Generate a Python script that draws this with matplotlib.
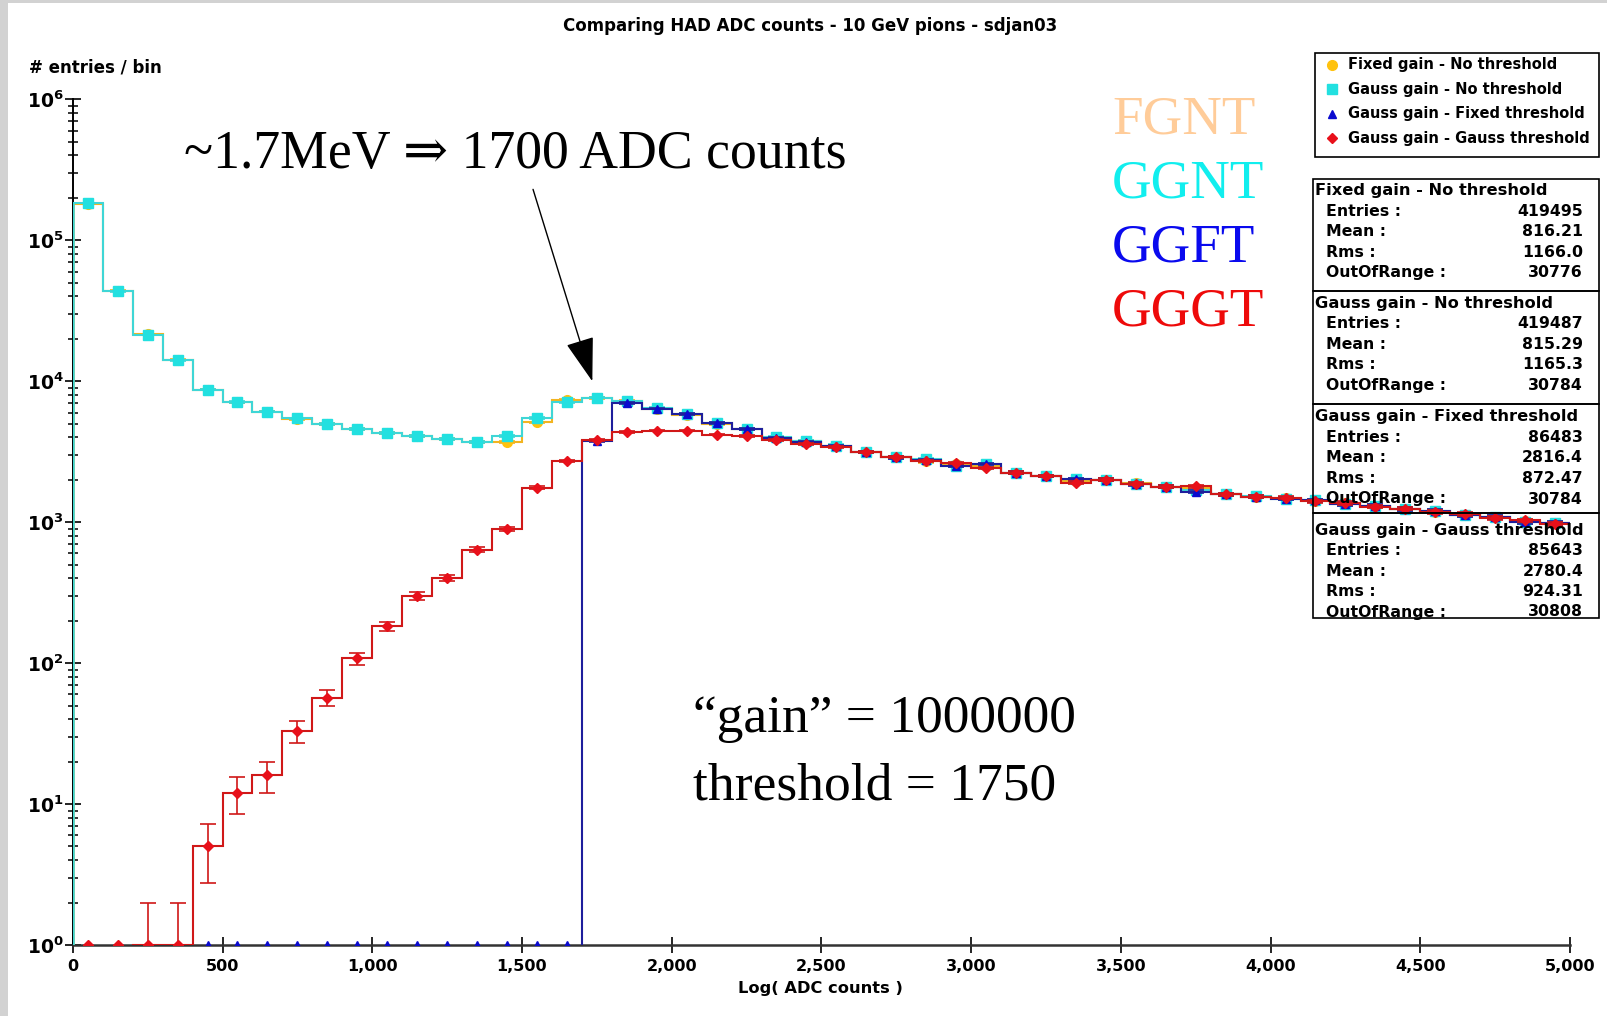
"""HAD ADC counts comparison for 10 GeV pions (sdjan03)."""

import numpy as np
import matplotlib
matplotlib.use("Agg")
import matplotlib.pyplot as plt
from matplotlib.lines import Line2D
from matplotlib.patches import Rectangle
from matplotlib.ticker import FuncFormatter, FixedLocator, NullFormatter, MultipleLocator

plt.rcParams["font.family"] = ["DejaVu Sans"]
plt.rcParams["font.weight"] = "bold"
plt.rcParams["mathtext.default"] = "bf"

W, H = 1607, 1016

# histogram binning: 50 bins of 100 ADC counts
bin_edges = np.arange(0, 5001, 100)

# Fixed gain - No threshold
fgnt = [182000, 44000, 21500, 14200, 8700, 7100, 6100, 5400, 5000, 4600,
        4300, 4100, 3900, 3700, 3700, 5100, 7400, 7600, 7300, 6400,
        5800, 5000, 4600, 3950, 3750, 3450, 3150, 2900, 2700, 2600,
        2500, 2250, 2130, 1950, 2000, 1900, 1790, 1750, 1580, 1520,
        1480, 1420, 1360, 1300, 1250, 1190, 1130, 1080, 1020, 980]
# Gauss gain - No threshold
ggnt = [183000, 43500, 21300, 14100, 8700, 7150, 6100, 5450, 5000, 4600,
        4300, 4100, 3900, 3700, 4100, 5500, 7100, 7650, 7200, 6450,
        5900, 5050, 4600, 4000, 3750, 3500, 3150, 2880, 2820, 2520,
        2600, 2250, 2130, 2020, 2000, 1870, 1790, 1680, 1580, 1530,
        1470, 1430, 1350, 1310, 1240, 1200, 1120, 1090, 1010, 985]
# Gauss gain - Fixed threshold
ggft = [0, 0, 0, 0, 0, 0, 0, 0, 0, 0,
        0, 0, 0, 0, 0, 0, 0, 3750, 7000, 6400,
        5870, 5040, 4570, 3940, 3730, 3480, 3140, 2880, 2750, 2500,
        2600, 2250, 2130, 2020, 2000, 1860, 1790, 1650, 1580, 1520,
        1470, 1430, 1350, 1310, 1240, 1200, 1120, 1090, 1010, 985]
# Gauss gain - Gauss threshold
gggt = [0, 0, 1, 1, 5, 12, 16, 33, 57, 108,
        183, 300, 403, 637, 892, 1760, 2720, 3840, 4350, 4470,
        4470, 4190, 4100, 3840, 3570, 3400, 3140, 2900, 2720, 2640,
        2420, 2250, 2130, 1910, 2000, 1870, 1790, 1800, 1580, 1520,
        1490, 1410, 1370, 1290, 1250, 1180, 1140, 1070, 1030, 975]

series_names = ["Fixed gain - No threshold", "Gauss gain - No threshold",
                "Gauss gain - Fixed threshold", "Gauss gain - Gauss threshold"]
short_names = ["FGNT", "GGNT", "GGFT", "GGGT"]
stat_entries = ["419495", "419487", "86483", "85643"]
stat_mean = ["816.21", "815.29", "2816.4", "2780.4"]
stat_rms = ["1166.0", "1165.3", "872.47", "924.31"]
stat_oor = ["30776", "30784", "30784", "30808"]

line_colors = ["#F2B420", "#3FD6D6", "#1E1E9C", "#D01818"]
marker_colors = ["#FFC20E", "#22E0E0", "#0A0ACF", "#E8101A"]
markers = ["o", "s", "^", "D"]
marker_sizes = [7, 6.5, 6, 5]
short_colors = ["#FFCC99", "#11EEEE", "#0A0AEE", "#EE0A0A"]

Y_MIN, Y_MAX = 1, 1e6


def fx(x):
    return x / W


def fy(y):
    return 1 - y / H


fig = plt.figure(figsize=(W / 100, H / 100), dpi=100)
fig.patch.set_facecolor("#d2d2d2")
fig.add_artist(Rectangle((fx(8), 0), 1 - fx(8), fy(3), transform=fig.transFigure,
                         facecolor="white", edgecolor="none", zorder=0))

ax = fig.add_axes([fx(72.8), fy(945), fx(1570) - fx(72.8), fy(99.4) - fy(945)])
ax.set_facecolor("white")
ax.set_yscale("log")
ax.set_xlim(0, 5000)
ax.set_ylim(Y_MIN, Y_MAX)

centers = 0.5 * (bin_edges[:-1] + bin_edges[1:])
for i, vals in enumerate([fgnt, ggnt, ggft, gggt]):
    v = np.asarray(vals, dtype=float)
    z = 3 + i * 0.1
    ax.stairs(v, bin_edges, baseline=None, color=line_colors[i], lw=1.5, zorder=z)
    if v[0] > 0:
        ax.vlines(bin_edges[0], Y_MIN, v[0], color=line_colors[i], lw=1.8, zorder=z)
    ax.errorbar(centers, v, yerr=np.sqrt(v), fmt="none", ecolor=line_colors[i],
                elinewidth=1.2, capsize=6, capthick=1.2, zorder=z)
    # empty bins are drawn on the axis, as the original plotter does
    shown = np.where(v > 0, v, Y_MIN)
    ax.plot(centers, shown, ls="none", marker=markers[i], ms=marker_sizes[i],
            color=marker_colors[i], mec=marker_colors[i], zorder=z + 0.05)

for side in ("top", "right"):
    ax.spines[side].set_visible(False)
ax.spines["left"].set_linewidth(1.4)
ax.spines["bottom"].set_linewidth(1.8)
ax.spines["bottom"].set_color("#333333")

decades = np.arange(0, 7)
ax.xaxis.set_major_locator(MultipleLocator(500))
ax.xaxis.set_major_formatter(FuncFormatter(lambda v, p: f"{int(v):,}"))
ax.yaxis.set_major_locator(FixedLocator(10.0 ** decades))
ax.yaxis.set_minor_locator(FixedLocator([k * 10.0 ** d for d in decades[:-1] for k in range(2, 10)]))
ax.yaxis.set_minor_formatter(NullFormatter())
ax.yaxis.set_major_formatter(FuncFormatter(lambda v, p: f"$10^{{{int(round(np.log10(v)))}}}$"))
ax.tick_params(axis="x", which="major", direction="inout", length=12, width=1.2,
               labelsize=11.5, pad=4)
ax.tick_params(axis="y", which="major", direction="inout", length=11, width=1.2,
               labelsize=13.5, pad=1)
ax.tick_params(axis="y", which="minor", direction="inout", length=7, width=1.1)

fig.text(fx(810), fy(25.6), "Comparing HAD ADC counts - 10 GeV pions - sdjan03",
         ha="center", va="center", fontsize=12)
fig.text(fx(28.7), fy(67.6), "# entries / bin", ha="left", va="center", fontsize=12)
fig.text(fx(820), fy(989), "Log( ADC counts )", ha="center", va="center", fontsize=11.7)

serif = ["Liberation Serif", "DejaVu Serif"]
fig.text(fx(184), fy(155), "~1.7MeV \u21d2 1700 ADC counts", ha="left", va="center",
         fontsize=38.7, family=serif, weight="normal")
fig.text(fx(693), fy(719), "\u201cgain\u201d = 1000000", ha="left", va="center",
         fontsize=38.5, family=serif, weight="normal")
fig.text(fx(693), fy(786), "threshold = 1750", ha="left", va="center",
         fontsize=38.5, family=serif, weight="normal")
ax.annotate("", xy=(1735, 1.0e4), xytext=(1537, 2.3e5),
            arrowprops=dict(arrowstyle="-|>,head_length=1.4,head_width=0.45",
                            mutation_scale=20, color="black", lw=1.0, shrinkA=0, shrinkB=0))

for i, name in enumerate(short_names):
    fig.text(fx(1112), fy(120 + 64 * i), name, ha="left", va="center", fontsize=39.5,
             family=serif, weight="normal", color=short_colors[i])

# legend box
fig.add_artist(Rectangle((fx(1315), fy(157)), fx(1599) - fx(1315), fy(53) - fy(157),
                         transform=fig.transFigure, facecolor="white",
                         edgecolor="black", lw=1.2, zorder=5))
for i, name in enumerate(series_names):
    yy = 64.6 + 24.6 * i
    fig.add_artist(Line2D([fx(1332)], [fy(yy)], marker=markers[i], ms=marker_sizes[i],
                          color=marker_colors[i], ls="none",
                          transform=fig.transFigure, zorder=6))
    fig.text(fx(1348), fy(yy), name, ha="left", va="center", fontsize=10.5, zorder=6)

# statistics boxes
box_edges = [179.4, 291, 404, 512.5, 618]
title_rows = [190.6, 303.4, 417, 530]
for i, name in enumerate(series_names):
    top, bot = box_edges[i], box_edges[i + 1]
    fig.add_artist(Rectangle((fx(1313), fy(bot)), fx(1599) - fx(1313), fy(top) - fy(bot),
                             transform=fig.transFigure, facecolor="none",
                             edgecolor="black", lw=1.2, zorder=5))
    t0 = title_rows[i]
    fig.text(fx(1315), fy(t0), name, ha="left", va="center", fontsize=11.7, zorder=6)
    rows = [("Entries :", stat_entries[i]), ("Mean :", stat_mean[i]),
            ("Rms :", stat_rms[i]), ("OutOfRange :", stat_oor[i])]
    for j, (lab, val) in enumerate(rows):
        yy = t0 + 20.5 * (j + 1)
        fig.text(fx(1326), fy(yy), lab, ha="left", va="center", fontsize=11.3, zorder=6)
        fig.text(fx(1583), fy(yy), val, ha="right", va="center", fontsize=11.3, zorder=6)

fig.savefig("out.png", dpi=100, facecolor=fig.get_facecolor())
